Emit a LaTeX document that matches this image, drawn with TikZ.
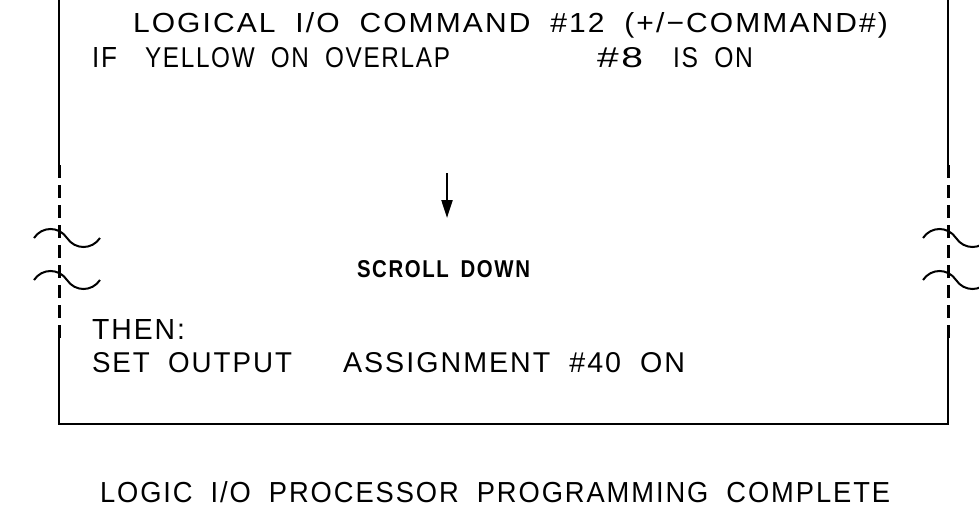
\documentclass[tikz,border=0pt]{standalone}
\usepackage{fontspec}
\setmainfont{Liberation Sans}
\newfontfamily\cadfont[LetterSpace=7,WordSpace=1.9]{Liberation Sans}
\newfontfamily\cadbold[LetterSpace=8,WordSpace=1.6]{Liberation Sans Bold}
\usetikzlibrary{arrows.meta}
\newcommand{\fittext}[3]{\resizebox{#1pt}{#2pt}{\cadfont #3}}
\tikzset{
  txt/.style={anchor=base west, inner sep=0pt, outer sep=0pt},
  boxline/.style={line width=2pt, line cap=butt},
  brkline/.style={line width=3pt, dash pattern=on 13pt off 7pt},
  wave/.style={line width=2pt},
  scrollarrow/.style={line width=2.2pt, -{Triangle[length=18pt,width=11pt]}}
}
\begin{document}
\begin{tikzpicture}[x=1pt,y=-1pt]
\useasboundingbox (0,0) rectangle (979,508);
\clip (0,0) rectangle (979,508);
% box outline
\draw[boxline] (59,0) -- (59,165);
\draw[brkline] (59,165) -- (59,338);
\draw[boxline] (59,338) -- (59,424) -- (948,424) -- (948,338);
\draw[brkline] (948,338) -- (948,165);
\draw[boxline] (948,165) -- (948,0);
% break waves
\foreach \dy in {0,42}{
  \draw[wave] (34,238+\dy) .. controls (42,226+\dy) and (59,226+\dy) .. (67,238+\dy)
        .. controls (75,250+\dy) and (92,250+\dy) .. (100,238+\dy);
  \draw[wave] (923,238+\dy) .. controls (931,226+\dy) and (948,226+\dy) .. (956,238+\dy)
        .. controls (964,250+\dy) and (981,250+\dy) .. (989,238+\dy);
}
% texts
\node[txt] (l1) at (133,33) {\fittext{755}{20}{LOGICAL I/O COMMAND \#12 (+/−COMMAND\#)}};
\node[txt] (l2a) at (92,68) {\fittext{25}{20}{IF}};
\node[txt] (l2b) at (145,68) {\fittext{305}{20}{YELLOW ON OVERLAP}};
\node[txt] (l2c) at (597,68) {\fittext{46}{20}{\#8}};
\node[txt] (l2d) at (673,68) {\fittext{80}{20}{IS ON}};
\node[txt] (scroll) at (357,277) {\resizebox{173pt}{17pt}{\cadbold SCROLL DOWN}};
\node[txt] (then) at (92,339) {\fittext{93}{20}{THEN:}};
\node[txt] (set1) at (92,372) {\fittext{200}{20}{SET OUTPUT}};
\node[txt] (set2) at (343,372) {\fittext{342}{20}{ASSIGNMENT \#40 ON}};
\node[txt] (done) at (100,502) {\fittext{790}{21}{LOGIC I/O PROCESSOR PROGRAMMING COMPLETE}};
% arrow
\coordinate (arrtop) at (447,173);
\coordinate (arrtip) at (447,218);
\draw[scrollarrow] (arrtop) -- (arrtip);
\end{tikzpicture}
\end{document}
